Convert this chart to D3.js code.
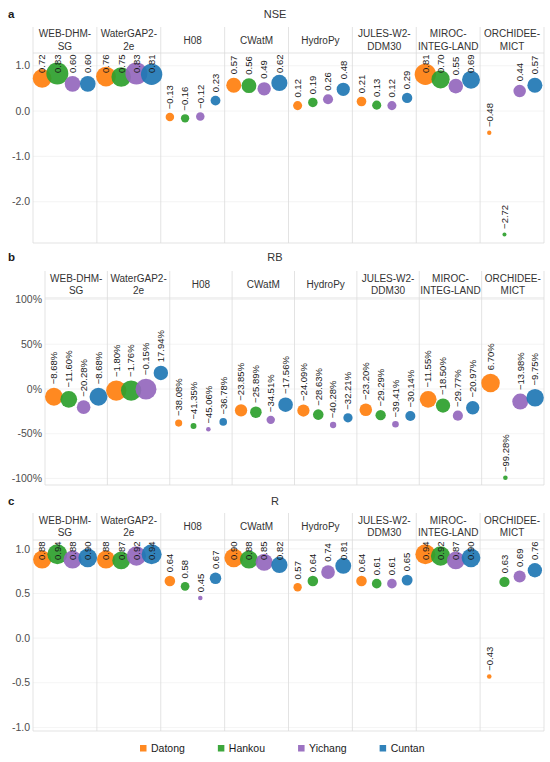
<!DOCTYPE html>
<html><head><meta charset="utf-8">
<script src="https://cdn.jsdelivr.net/npm/d3@7"></script>
<style>body{margin:0;background:#fff}svg{display:block;font-family:"Liberation Sans",Arial,sans-serif}</style></head>
<body><svg id="chart" width="550" height="762"></svg>
<script>
// ---------- data ----------
const facets = ["WEB-DHM-SG","WaterGAP2-2e","H08","CWatM","HydroPy","JULES-W2-DDM30","MIROC-INTEG-LAND","ORCHIDEE-MICT"];
const facetLabels = [["WEB-DHM-","SG"],["WaterGAP2-","2e"],["H08"],["CWatM"],["HydroPy"],["JULES-W2-","DDM30"],["MIROC-","INTEG-LAND"],["ORCHIDEE-","MICT"]];
const stations = ["Datong","Hankou","Yichang","Cuntan"];
const stationColors = ["#ff7f0e","#2ca02c","#9467bd","#1f77b4"];
const nseValues = [[0.72,0.83,0.60,0.60],[0.76,0.75,0.83,0.81],[-0.13,-0.16,-0.12,0.23],[0.57,0.56,0.49,0.62],[0.12,0.19,0.26,0.48],[0.21,0.13,0.12,0.29],[0.81,0.70,0.55,0.69],[-0.48,-2.72,0.44,0.57]];
const rbValues = [[-8.68,-11.60,-20.28,-8.68],[-1.80,-1.76,-0.15,17.94],[-38.08,-41.35,-45.06,-36.78],[-23.85,-25.89,-34.51,-17.56],[-24.09,-28.63,-40.28,-32.21],[-23.20,-29.29,-39.41,-30.14],[-11.55,-18.50,-29.77,-20.97],[6.70,-99.28,-13.98,-9.75]];
const rValues = [[0.88,0.94,0.88,0.90],[0.88,0.87,0.92,0.94],[0.64,0.58,0.45,0.67],[0.90,0.88,0.85,0.82],[0.57,0.64,0.74,0.81],[0.64,0.61,0.61,0.65],[0.94,0.92,0.87,0.90],[-0.43,0.63,0.69,0.76]];
const nseTicks = [1,0,-1,-2];
const rbTicks = [100,50,0,-50,-100];
const rTicks = [1,0.5,0,-0.5,-1];

// ---------- rendering ----------
const svg = d3.select("#chart");
svg.append("rect").attr("width",550).attr("height",762).attr("fill","#fff");
const RIGHT = 544;
const minus = s => s.replace("-", "\u2212");

const panels = [
  {letter:"a", title:"NSE", values:nseValues, ticks:nseTicks, left:33, stripTop:27, top:53, bottom:243, titleY:18,
   y: d3.scaleLinear().domain([-2.91,1.28]).range([243,53]), conv:v=>v,
   tickFmt:t=>d3.format(".1f")(t).replace("\u2212","-"), labFmt:v=>minus(v.toFixed(2)),
   size: v=> d3.scalePow().exponent(2).domain([-0.5,0.83]).range([2,11]).clamp(true)(v)},
  {letter:"b", title:"RB", values:rbValues, ticks:rbTicks, left:45, stripTop:271, top:298, bottom:485, titleY:261,
   y: d3.scaleLinear().domain([-1.073,1.017]).range([485,298]), conv:v=>v/100,
   tickFmt:t=>t+"%", labFmt:v=>minus(v.toFixed(2))+"%",
   size: v=> d3.scaleLinear().domain([0,45]).range([10.5,2.3]).clamp(true)(Math.abs(v))},
  {letter:"c", title:"R", values:rValues, ticks:rTicks, left:33, stripTop:513, top:540, bottom:731, titleY:505,
   y: d3.scaleLinear().domain([-1.04,1.099]).range([731,540]), conv:v=>v,
   tickFmt:t=>d3.format(".1f")(t).replace("\u2212","-"), labFmt:v=>minus(v.toFixed(2)),
   size: v=> d3.scaleLinear().domain([0.45,0.94]).range([2.3,10]).clamp(true)(v)}
];

panels.forEach(p => {
  const g = svg.append("g");
  const fx = d3.scaleBand().domain(facets).range([p.left, RIGHT]);
  const bw = fx.bandwidth();
  const sx = d3.scalePoint().domain(stations).range([0, bw]).padding(0.6);

  // titles
  g.append("text").attr("x",8).attr("y",p.titleY).attr("font-size",11.5).attr("font-weight","bold").attr("fill","#1a1a1a").text(p.letter);
  g.append("text").attr("x",275).attr("y",p.titleY).attr("text-anchor","middle").attr("font-size",11).attr("fill","#333").text(p.title);

  // gridlines
  g.selectAll(".grid").data(p.ticks).enter().append("line")
    .attr("x1",p.left).attr("x2",RIGHT)
    .attr("y1",t=>p.y(p.conv(t))).attr("y2",t=>p.y(p.conv(t)))
    .attr("stroke","#ececec").attr("stroke-width",0.6);

  // y axis labels
  g.selectAll(".ytick").data(p.ticks).enter().append("text")
    .attr("x",p.left-3).attr("y",t=>p.y(p.conv(t))).attr("dy","0.35em")
    .attr("text-anchor","end").attr("font-size",10.5).attr("fill","#4d4d4d")
    .text(p.tickFmt);

  // facet borders & strips
  g.selectAll(".vb").data(facets).enter().append("line")
    .attr("x1",d=>fx(d)).attr("x2",d=>fx(d)).attr("y1",p.stripTop).attr("y2",p.bottom)
    .attr("stroke","#dcdcdc").attr("stroke-width",0.8);
  g.append("line").attr("x1",RIGHT).attr("x2",RIGHT).attr("y1",p.stripTop).attr("y2",p.bottom).attr("stroke","#dcdcdc").attr("stroke-width",0.8);
  g.append("line").attr("x1",p.left).attr("x2",RIGHT).attr("y1",p.top).attr("y2",p.top).attr("stroke","#dcdcdc").attr("stroke-width",0.8);
  g.append("line").attr("x1",p.left).attr("x2",RIGHT).attr("y1",p.bottom).attr("y2",p.bottom).attr("stroke","#dcdcdc").attr("stroke-width",0.8);

  const stripMid = (p.stripTop + p.top)/2;
  facets.forEach((f,i) => {
    const lines = facetLabels[i];
    const t = g.append("text").attr("text-anchor","middle").attr("font-size",10).attr("fill","#333");
    lines.forEach((ln,k) => {
      t.append("tspan").attr("x",fx(f)+bw/2)
        .attr("y", stripMid + (k - (lines.length-1)/2)*12.5).attr("dy","0.35em").text(ln);
    });
  });

  // points & labels
  const pts = [];
  facets.forEach((f,i) => stations.forEach((s,j) => {
    pts.push({f, s, j, v:p.values[i][j]});
  }));
  const cg = g.append("g");
  cg.selectAll("circle").data(pts).enter().append("circle")
    .attr("cx",d=>fx(d.f)+sx(d.s)).attr("cy",d=>p.y(p.conv(d.v)))
    .attr("r",d=>p.size(d.v)).attr("fill",d=>stationColors[d.j]).attr("fill-opacity",0.92);

  const lg = g.append("g");
  pts.forEach(d => {
    const cx = fx(d.f)+sx(d.s), cy = p.y(p.conv(d.v)), r = p.size(d.v);
    const txt = lg.append("text").attr("font-size",9.5).attr("fill","#1a1a1a").attr("dy","0.35em").text(p.labFmt(d.v));
    const len = txt.node().getComputedTextLength();
    let b = cy - r - 3.5;
    if (b - len < p.top + 1.5) b = p.top + 1.5 + len;
    txt.attr("transform",`translate(${cx},${b}) rotate(-90)`);
  });
});

// legend
const lgd = svg.append("g");
let lx = 140;
stations.forEach((s,j) => {
  lgd.append("rect").attr("x",lx).attr("y",745).attr("width",6.5).attr("height",6.5).attr("fill",stationColors[j]).attr("fill-opacity",0.92);
  const t = lgd.append("text").attr("x",lx+11).attr("y",748.5).attr("dy","0.35em").attr("font-size",10.5).attr("fill","#1a1a1a").text(s);
  lx += 11 + t.node().getComputedTextLength() + 33;
});
</script>
</body></html>
